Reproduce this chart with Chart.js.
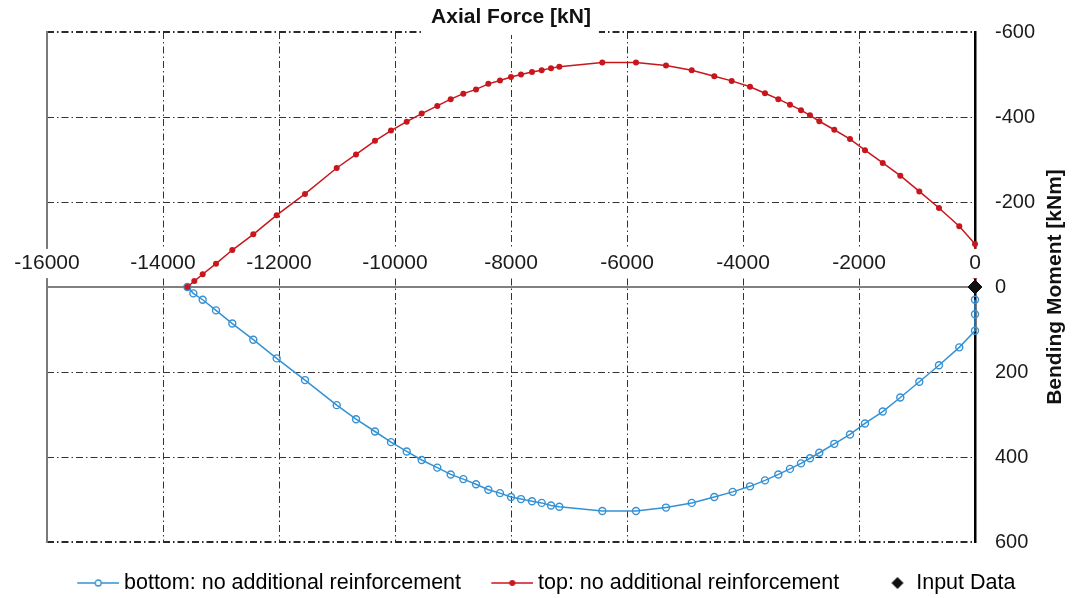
<!DOCTYPE html>
<html>
<head>
<meta charset="utf-8">
<script src="https://cdn.jsdelivr.net/npm/chart.js@4.4.0/dist/chart.umd.min.js"></script>
<style>
  html, body { margin: 0; padding: 0; background: #fff; }
</style>
</head>
<body>
<canvas id="mnChart" width="1079" height="598"></canvas>
<script>
// interaction diagram: axial force N [kN] vs bending moment M [kNm]
const axialTop = [-13580, -13460, -13316, -13086, -12805, -12443, -12040, -11552, -11005, -10672,
  -10345, -10069, -9798, -9540, -9271, -9040, -8822, -8603, -8391, -8190,
  -8000, -7828, -7638, -7471, -7310, -7167, -6426, -5845, -5328, -4884,
  -4495, -4195, -3879, -3621, -3391, -3190, -3000, -2845, -2684, -2426,
  -2155, -1897, -1591, -1288, -960, -621, -271, 0, 0, 0];
const momentTop = [0, -14, -30, -55, -87, -124, -169, -219, -280, -312,
  -344, -368, -389, -408, -426, -442, -455, -465, -478, -486,
  -494, -500, -506, -510, -515, -518, -528, -528, -521, -510,
  -496, -485, -471, -456, -442, -429, -416, -404, -390, -370,
  -348, -322, -292, -262, -225, -186, -143, -101, -63, -26];

const axialBottom = [-13580, -13477, -13316, -13086, -12805, -12443, -12040, -11552, -11005, -10672,
  -10345, -10069, -9798, -9540, -9271, -9040, -8822, -8603, -8391, -8190,
  -8000, -7828, -7638, -7471, -7310, -7167, -6426, -5845, -5328, -4884,
  -4495, -4178, -3879, -3621, -3391, -3190, -3000, -2845, -2684, -2426,
  -2155, -1897, -1591, -1288, -960, -621, -271, 0, 0, 0];
const momentBottom = [0, 15, 30, 55, 86, 124, 168, 219, 278, 311,
  340, 365, 387, 407, 425, 441, 452, 464, 477, 485,
  494, 499, 504, 508, 514, 517, 527, 527, 519, 508,
  494, 482, 469, 455, 441, 428, 415, 403, 390, 369,
  347, 321, 293, 260, 223, 184, 142, 103, 64, 30];

const inputAxial = [0];
const inputMoment = [0];

const xMin = -16000, xMax = 0, xStep = 2000;
const yMin = -600, yMax = 600, yStep = 200;

const xTitle = 'Axial Force [kN]';
const yTitle = 'Bending Moment [kNm]';
const seriesNames = ['bottom: no additional reinforcement', 'top: no additional reinforcement', 'Input Data'];

const BLUE = '#3491d4';
const RED = '#c8161d';
const FONT = "'Liberation Sans', Arial, Helvetica, sans-serif";

function toPoints(xs, ys) {
  return xs.map((x, i) => ({x: x, y: ys[i]}));
}

// little legend glyphs: line + marker like the original
function legendGlyph(kind) {
  const c = document.createElement('canvas');
  c.width = 48; c.height = 14;
  const g = c.getContext('2d');
  if (kind === 'diamond') {
    g.fillStyle = '#111';
    g.beginPath();
    g.moveTo(34, 1); g.lineTo(40, 7); g.lineTo(34, 13); g.lineTo(28, 7);
    g.closePath(); g.fill();
    return c;
  }
  const col = kind === 'blue' ? BLUE : RED;
  g.strokeStyle = col;
  g.lineWidth = 1.6;
  g.beginPath(); g.moveTo(6, 7); g.lineTo(48, 7); g.stroke();
  g.beginPath(); g.arc(27, 7, 3, 0, Math.PI * 2);
  if (kind === 'blue') { g.fillStyle = '#fff'; g.fill(); g.lineWidth = 1.3; g.stroke(); }
  else { g.fillStyle = col; g.fill(); }
  return c;
}
const glyphs = [legendGlyph('blue'), legendGlyph('red'), legendGlyph('diamond')];

const gridDash = [7, 3, 1.5, 3];

const frameText = {
  id: 'frameText',
  beforeDatasetsDraw(chart) {
    // break the top frame line behind the title
    const {ctx, chartArea} = chart;
    ctx.save();
    ctx.font = 'bold 21px ' + FONT;
    const w = ctx.measureText(xTitle).width;
    const cx = (chartArea.left + chartArea.right) / 2;
    ctx.fillStyle = '#fff';
    ctx.fillRect(cx - w / 2 - 8, chartArea.top - 3, w + 16, 6);
    ctx.restore();
  },
  afterDraw(chart) {
    const {ctx, chartArea, scales} = chart;
    ctx.save();
    ctx.translate(scales.y.right - 24, (chartArea.top + chartArea.bottom) / 2);
    ctx.rotate(-Math.PI / 2);
    ctx.font = 'bold 21px ' + FONT;
    ctx.textAlign = 'center';
    ctx.textBaseline = 'middle';
    ctx.fillStyle = '#111';
    ctx.fillText(yTitle, 0, 0);
    ctx.restore();
  }
};

Chart.defaults.font.family = FONT;
Chart.defaults.color = '#1b1b1b';

new Chart(document.getElementById('mnChart'), {
  type: 'scatter',
  data: {
    datasets: [
      {
        label: seriesNames[0],
        data: toPoints(axialBottom, momentBottom),
        showLine: true,
        borderColor: BLUE,
        borderWidth: 1.5,
        backgroundColor: 'rgba(0,0,0,0)',
        pointBorderColor: BLUE,
        pointBackgroundColor: 'rgba(255,255,255,0)',
        pointRadius: 3.5,
        pointBorderWidth: 1.4,
        clip: false,
        order: 2
      },
      {
        label: seriesNames[1],
        data: toPoints(axialTop, momentTop),
        showLine: true,
        borderColor: RED,
        borderWidth: 1.5,
        backgroundColor: RED,
        pointBackgroundColor: RED,
        pointBorderColor: RED,
        pointRadius: 3,
        pointBorderWidth: 0,
        clip: false,
        order: 1
      },
      {
        label: seriesNames[2],
        data: toPoints(inputAxial, inputMoment),
        showLine: false,
        pointStyle: 'rectRot',
        pointRadius: 7,
        backgroundColor: '#111',
        borderColor: '#111',
        clip: false,
        order: 0
      }
    ]
  },
  options: {
    responsive: false,
    animation: false,
    devicePixelRatio: 1,
    layout: { padding: { left: 47, right: 0, top: 0, bottom: -5.75 } },
    scales: {
      x: {
        type: 'linear',
        position: { y: 0 },
        min: xMin, max: xMax,
        ticks: {
          stepSize: xStep,
          autoSkip: false,
          maxRotation: 0,
          padding: -36.1,
          font: { size: 21 },
          color: '#1b1b1b',
          z: 1,
          showLabelBackdrop: true,
          backdropColor: '#fff',
          backdropPadding: { top: 2, bottom: 2, left: 1, right: 1 },
          callback: v => String(v)
        },
        grid: {
          drawTicks: false,
          color: '#333',
          lineWidth: 1
        },
        border: { display: true, color: '#808080', width: 2, dash: gridDash }
      },
      y: {
        type: 'linear',
        position: 'right',
        reverse: true,
        min: yMin, max: yMax,
        afterFit: s => { s.width = 104; },
        ticks: {
          stepSize: yStep,
          padding: 20,
          font: { size: 20 },
          color: '#1b1b1b',
          callback: v => String(v)
        },
        grid: {
          drawTicks: false,
          color: ctx => (Math.abs(ctx.tick.value) === 600 ? '#2a2a2a' : '#333'),
          lineWidth: ctx => (Math.abs(ctx.tick.value) === 600 ? 2 : 1)
        },
        border: { display: true, color: '#000', width: 2.5, dash: gridDash }
      },
      yl: {
        type: 'linear',
        position: 'left',
        afterFit: s => { s.width = 0; },
        ticks: { display: false },
        grid: { drawOnChartArea: false, drawTicks: false },
        border: { display: true, color: '#7a7a7a', width: 2 }
      }
    },
    plugins: {
      title: {
        display: true,
        text: xTitle,
        fullSize: false,
        color: '#111',
        font: { size: 21, weight: 'bold' },
        padding: { top: 2, bottom: 2 }
      },
      legend: {
        position: 'bottom',
        align: 'start',
        onClick: null,
        labels: {
          usePointStyle: true,
          pointStyleWidth: 36,
          padding: 30.25,
          color: '#1b1b1b',
          font: { size: 21.5 },
          generateLabels: chart => chart.data.datasets.map((ds, i) => ({
            text: ds.label,
            pointStyle: glyphs[i],
            fillStyle: 'rgba(0,0,0,0)',
            strokeStyle: 'rgba(0,0,0,0)',
            lineWidth: 0,
            hidden: false,
            datasetIndex: i
          }))
        }
      },
      tooltip: { enabled: false }
    }
  },
  plugins: [frameText]
});
</script>
</body>
</html>
